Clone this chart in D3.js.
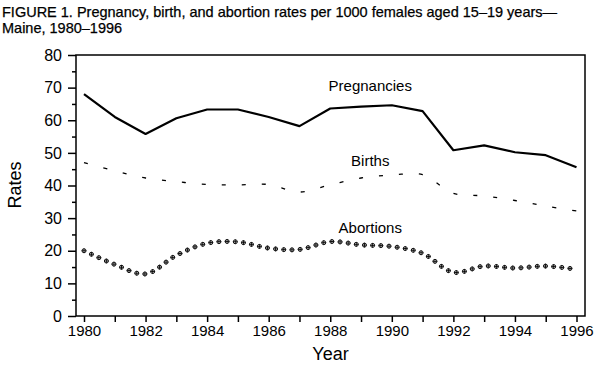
<!DOCTYPE html>
<html>
<head>
<meta charset="utf-8">
<script src="https://cdn.jsdelivr.net/npm/d3@7"></script>
<style>
  html, body { margin: 0; padding: 0; background: #fff; }
  svg { display: block; }
  text { font-family: "Liberation Sans", Arial, sans-serif; fill: #000; }
</style>
</head>
<body>
<svg id="chart" width="613" height="371"></svg>
<script>
const years = [1980,1981,1982,1983,1984,1985,1986,1987,1988,1989,1990,1991,1992,1993,1994,1995,1996];
const pregnancies = [68.0,61.0,55.8,60.6,63.3,63.3,61.0,58.2,63.6,64.2,64.6,62.8,50.8,52.3,50.2,49.3,45.6];
const births = [47.0,44.5,42.3,41.2,40.3,40.2,40.3,38.0,40.2,42.3,43.2,43.3,37.6,36.8,35.4,33.7,32.2];
const abortions = [20.0,15.8,12.9,18.6,22.3,22.7,20.8,20.4,22.8,21.8,21.3,19.2,13.4,15.3,14.7,15.3,14.3];
const yTicks = [0,10,20,30,40,50,60,70,80];
const yMinor = [5,15,25,35,45,55,65,75];
const xLabelYears = [1980,1982,1984,1986,1988,1990,1992,1994,1996];
const titleLines = ["FIGURE 1. Pregnancy, birth, and abortion rates per 1000 females aged 15\u201319 years\u2014", "Maine, 1980\u20131996"];
const seriesLabels = [
  {name: "Pregnancies", year: 1989.3, value: 69.0},
  {name: "Births", year: 1989.3, value: 46.0},
  {name: "Abortions", year: 1989.3, value: 25.4}
];

const svg = d3.select("#chart");
const x = d3.scaleLinear().domain([1980, 1996]).range([84, 576.5]);
const y = d3.scaleLinear().domain([0, 80]).range([316, 55]);
const plotLeft = 76, plotRight = 585;

// Title
svg.selectAll("text.title").data(titleLines).enter().append("text")
  .attr("class", "title")
  .attr("x", 2).attr("y", (d, i) => 17 + i * 16)
  .style("font-family", "'Liberation Sans Narrow', 'Arial Narrow', sans-serif")
  .style("font-size", "14.5px")
  .style("stroke", "#000").style("stroke-width", "0.25")
  .text(d => d);

// Frame
svg.append("rect")
  .attr("x", plotLeft).attr("y", y(80))
  .attr("width", plotRight - plotLeft).attr("height", y(0) - y(80))
  .attr("fill", "none").attr("stroke", "#000").attr("stroke-width", 1.5);

// Y axis
const yAxis = d3.axisLeft(y).tickValues(yTicks).tickSize(8).tickPadding(6).tickFormat(d3.format("d"));
const gy = svg.append("g").attr("transform", `translate(${plotLeft},0)`).call(yAxis);
gy.select(".domain").remove();
gy.selectAll("line").attr("stroke", "#000").attr("stroke-width", 1.5);
gy.selectAll("text").style("font-size", "16px").style("font-family", "'Liberation Sans', Arial, sans-serif");
const gyMinor = svg.append("g").attr("transform", `translate(${plotLeft},0)`)
  .call(d3.axisLeft(y).tickValues(yMinor).tickSize(4).tickFormat(""));
gyMinor.select(".domain").remove();
gyMinor.selectAll("line").attr("stroke", "#000").attr("stroke-width", 1.5);

// X axis
const xAxis = d3.axisBottom(x).tickValues(years).tickSize(6).tickPadding(3)
  .tickFormat(d => xLabelYears.includes(d) ? String(d) : "");
const gx = svg.append("g").attr("transform", `translate(0,${y(0)})`).call(xAxis);
gx.select(".domain").remove();
gx.selectAll("line").attr("stroke", "#000").attr("stroke-width", 1.5);
gx.selectAll("text").style("font-size", "15px").style("font-family", "'Liberation Sans', Arial, sans-serif");

// Axis titles
svg.append("text").attr("x", (plotLeft + plotRight) / 2).attr("y", 360)
  .attr("text-anchor", "middle").style("font-size", "18px").text("Year");
svg.append("text").attr("transform", "translate(21,185) rotate(-90)")
  .attr("text-anchor", "middle").style("font-size", "18px").text("Rates");

// Pregnancies: solid line
const line = d3.line().x((d, i) => x(years[i])).y(d => y(d));
svg.append("path").datum(pregnancies)
  .attr("d", line).attr("fill", "none").attr("stroke", "#000")
  .attr("stroke-width", 2.2).attr("stroke-linejoin", "round");

// Births: sparse dashed smooth line
const smooth = d3.line().x((d, i) => x(years[i])).y(d => y(d)).curve(d3.curveCatmullRom.alpha(0.5));
svg.append("path").datum(births)
  .attr("d", smooth).attr("fill", "none").attr("stroke", "#000")
  .attr("stroke-width", 1.3).attr("stroke-dasharray", "4,16");

// Abortions: smooth curve of crossed-circle markers
const abPath = svg.append("path").datum(abortions)
  .attr("d", smooth).attr("fill", "none").attr("stroke", "none");
const node = abPath.node();
const total = node.getTotalLength();
const step = 8.2;
const pts = d3.range(0, total + 0.01, step).map(l => node.getPointAtLength(l));
const mk = svg.append("g");
pts.forEach(p => {
  mk.append("circle").attr("cx", p.x).attr("cy", p.y).attr("r", 2)
    .attr("fill", "#fff").attr("stroke", "#000").attr("stroke-width", 0.9);
  mk.append("path").attr("d", `M${p.x-2.3},${p.y}H${p.x+2.3}M${p.x},${p.y-2.3}V${p.y+2.3}`)
    .attr("stroke", "#000").attr("stroke-width", 0.9);
});

// Series labels
svg.selectAll("text.series").data(seriesLabels).enter().append("text")
  .attr("class", "series")
  .attr("x", d => x(d.year)).attr("y", d => y(d.value))
  .attr("text-anchor", "middle").style("font-size", "15px")
  .text(d => d.name);
</script>
</body>
</html>
